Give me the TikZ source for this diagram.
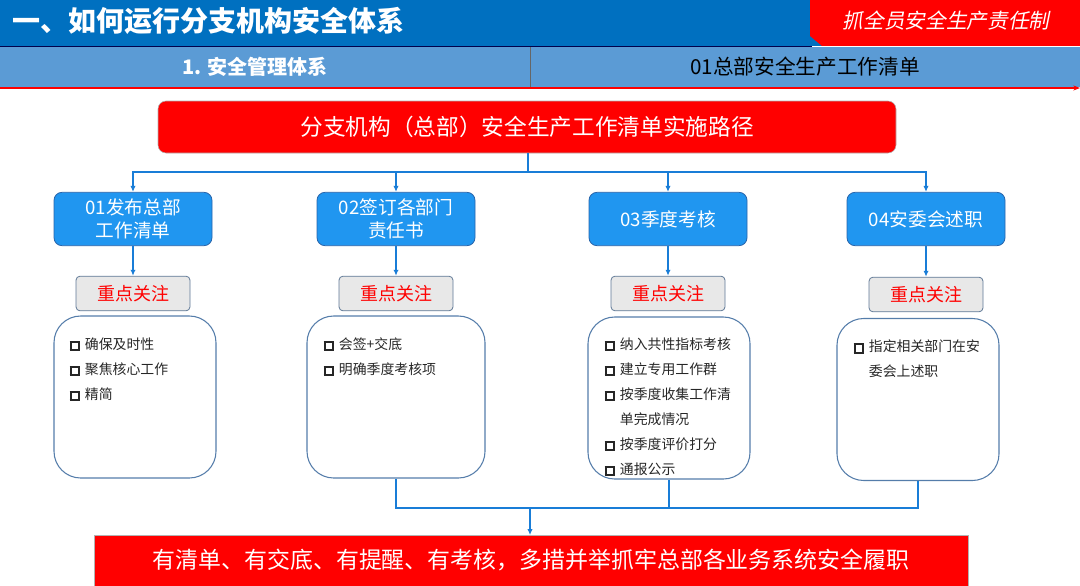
\documentclass[tikz,border=0pt]{standalone}
\usepackage{fontspec}
\setmainfont{Noto Sans CJK SC}
\newfontfamily\slantcjk[FakeSlant=0.2]{Noto Sans CJK SC}
\usetikzlibrary{arrows.meta,positioning}
\definecolor{topblue}{RGB}{0,112,192}
\definecolor{barblue}{RGB}{91,155,213}
\definecolor{boxblue}{RGB}{32,150,240}
\definecolor{boxedge}{RGB}{40,100,170}
\definecolor{focusgrey}{RGB}{232,232,232}
\definecolor{greyedge}{RGB}{95,120,150}
\definecolor{cardedge}{RGB}{85,125,170}
\definecolor{linkblue}{RGB}{25,125,215}
\newcommand{\chkbox}{\raisebox{0.2pt}{\setlength{\fboxrule}{1.4pt}\setlength{\fboxsep}{0pt}\fbox{\rule{0pt}{4.8pt}\hspace{4.8pt}}}\hspace{1.5pt}}
\newcommand{\hangx}{\phantom{\chkbox{} }}

\begin{document}
\begin{tikzpicture}[
  x=0.75pt, y=-0.75pt,
  stepbox/.style={draw=boxedge, fill=boxblue, rounded corners=6pt, line width=0.6pt, text=white, align=center,
    font=\fontsize{14}{17}\selectfont, minimum width=118.5pt, minimum height=40pt},
  focus/.style={draw=greyedge, fill=focusgrey, rounded corners=3pt, line width=0.6pt, text=red,
    font=\fontsize{13.5}{16}\selectfont, minimum width=85.5pt, minimum height=26pt},
  card/.style={draw=cardedge, rounded corners=20pt, line width=0.8pt, minimum width=121.5pt, minimum height=121.5pt},
  items/.style={anchor=north west, inner sep=0pt, align=left, text=black!85, font=\fontsize{10.4}{18.75}\selectfont},
  banner/.style={draw=gray!60, line width=0.4pt, fill=red, text=white, align=center},
  link/.style={draw=linkblue, line width=1.1pt},
  arr/.style={link, -{Latex[length=4.5pt, width=4pt]}}
]
\useasboundingbox (0,0) rectangle (1080,585);

% header
\fill[topblue] (0,0) rectangle (1080,46);
\fill[red] (810,0) -- (1080,0) -- (1080,46) -- (822,46) -- (810,36) -- cycle;
\fill[barblue] (0,47) rectangle (1080,87);
\draw[black!70!blue, line width=1pt] (0,46.5) -- (812,46.5);
\draw[black!60, line width=0.6pt] (530,47) -- (530,87);
\draw[red, line width=1.5pt, -{Stealth[length=5pt]}] (0,88) -- (1080,88);
\node[anchor=west, text=white, font=\bfseries\fontsize{21}{24}\selectfont] (title) at (8,21) {一、如何运行分支机构安全体系};
\node[text=white, font=\slantcjk\fontsize{15.5}{18}\selectfont] (motto) at (946,21) {抓全员安全生产责任制};
\node[text=white, font=\bfseries\fontsize{15}{18}\selectfont] (sect) at (255,67) {1. 安全管理体系};
\node[text=black, font=\fontsize{15.5}{18}\selectfont] (list) at (805,67) {01总部安全生产工作清单};

% path title
\node[banner, rounded corners=6pt, minimum width=553.5pt, minimum height=39pt, font=\fontsize{17}{20}\selectfont] (path) at (527,127)
  {分支机构（总部）安全生产工作清单实施路径};

% four steps
\node[stepbox] (s1) at (133,219) {01发布总部\\工作清单};
\node[stepbox] (s2) at (396,219) {02签订各部门\\责任书};
\node[stepbox] (s3) at (668,219) {03季度考核};
\node[stepbox] (s4) at (926,219) {04安委会述职};

\node[focus] (f1) at (133,293.5) {重点关注};
\node[focus] (f2) at (396,293.5) {重点关注};
\node[focus] (f3) at (668,293.5) {重点关注};
\node[focus] (f4) at (926,294.5) {重点关注};

\node[card] (c1) at (135,397) {};
\node[card, minimum width=133.5pt] (c2) at (396,397) {};
\node[card] (c3) at (669,398) {};
\node[card] (c4) at (918,399.5) {};

\node[items] (t1) at ([shift={(16,22)}]c1.north west) {\chkbox{} 确保及时性\\\chkbox{} 聚焦核心工作\\\chkbox{} 精简};
\node[items] (t2) at ([shift={(17,22)}]c2.north west) {\chkbox{} 会签+交底\\\chkbox{} 明确季度考核项};
\node[items] (t3) at ([shift={(17,21)}]c3.north west) {\chkbox{} 纳入共性指标考核\\\chkbox{} 建立专用工作群\\\chkbox{} 按季度收集工作清\\\hangx 单完成情况\\\chkbox{} 按季度评价打分\\\chkbox{} 通报公示};
\node[items] (t4) at ([shift={(17,22)}]c4.north west) {\chkbox{} 指定相关部门在安\\\hangx 委会上述职};

% summary
\node[banner, minimum width=655.5pt, minimum height=43pt, font=\fontsize{17.2}{20}\selectfont] (goal) at (531,564)
  {\raisebox{8pt}{有清单、有交底、有提醒、有考核，多措并举抓牢总部各业务系统安全履职}};

% connectors
\coordinate (busT) at (528,172);
\coordinate (busB) at (530,508);
\draw[link] (path.south -| busT) -- (busT);
\foreach \i in {1,...,4}{
  \draw[arr] (busT) -| (s\i.north);
  \draw[arr] (s\i.south) -- (f\i.north);
}
\draw[link] (c2.south) |- (busB);
\draw[link] (c4.south) |- (busB);
\draw[link] (c3.south) -- (c3.south |- busB);
\draw[arr] (busB) -- (goal.north -| busB);
\end{tikzpicture}
\end{document}
